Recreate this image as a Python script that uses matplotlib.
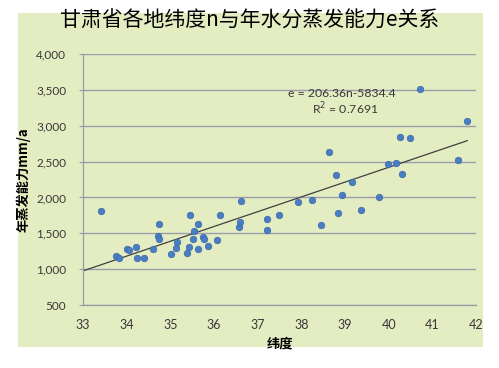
import numpy as np
import matplotlib.pyplot as plt
from matplotlib.patches import Rectangle

# latitude n (deg) and annual evaporation capacity e (mm/a)
lat = [33.42, 33.76, 33.82, 34.01, 34.05, 34.22, 34.24, 34.40, 34.60, 34.75,
       34.72, 34.75, 35.02, 35.13, 35.16, 35.39, 35.43, 35.46, 35.53, 35.54,
       35.63, 35.64, 35.74, 35.76, 35.87, 36.07, 36.14, 36.58, 36.60, 36.61,
       37.21, 37.21, 37.48, 37.93, 38.24, 38.45, 38.63, 38.79, 38.84, 38.94,
       39.16, 39.36, 39.77, 39.99, 40.16, 40.26, 40.30, 40.49, 40.72, 41.58,
       41.80]
evap = [1810, 1187, 1160, 1276, 1262, 1313, 1155, 1155, 1281, 1633,
        1462, 1416, 1211, 1290, 1382, 1229, 1313, 1750, 1424, 1532,
        1276, 1629, 1452, 1424, 1322, 1406, 1750, 1591, 1661, 1946,
        1703, 1541, 1750, 1940, 1964, 1619, 2637, 2312, 1787, 2033,
        2210, 1829, 2001, 2461, 2475, 2846, 2326, 2824, 3511, 2521,
        3069]

# trendline as printed on the chart
slope = 206.36
intercept = -5834.4
eq_text = "e = 206.36n-5834.4"
r2_text = "R$^2$ = 0.7691"

x_ticks = list(range(33, 43))
y_ticks = list(range(500, 4001, 500))

plt.rcParams['font.family'] = ['Lato', 'Noto Sans CJK SC', 'DejaVu Sans']

W, H = 499, 368
fig = plt.figure(figsize=(W / 100, H / 100), dpi=100)
fig.patch.set_facecolor('white')

# chart area background
bg = '#e4edc2'
fig.patches.append(Rectangle((18 / W, 1 - 347 / H), 465 / W, 334 / H,
                             transform=fig.transFigure, facecolor=bg,
                             edgecolor='none', zorder=-10))

ax = fig.add_axes([83 / W, 1 - 305 / H, (476 - 83) / W, (305 - 54) / H])
ax.set_facecolor('none')

ax.set_xlim(33, 42)
ax.set_ylim(500, 4000)
ax.set_xticks(x_ticks)
ax.set_yticks(y_ticks)
ax.set_yticklabels([f"{v:,}" for v in y_ticks])

ax.grid(axis='y', color='#9c9cac', linewidth=1.0)
ax.set_axisbelow(True)
for s in ['top', 'right']:
    ax.spines[s].set_visible(False)
for s in ['left', 'bottom']:
    ax.spines[s].set_color('#9a9aa6')
    ax.spines[s].set_linewidth(0.9)

ax.tick_params(axis='y', length=3, color='#9a9aa6', labelsize=8.5,
               labelcolor='#383838', pad=9)
ax.tick_params(axis='x', length=0, labelsize=9, labelcolor='#383838', pad=10)

ax.scatter(lat, evap, s=22, color='#4a7ec4', edgecolor='#3a68a8',
           linewidth=0.5, zorder=3)

xs = np.array([33, max(lat)])
ax.plot(xs, slope * xs + intercept, color='#404040', linewidth=0.9, zorder=2)

ax.text(37.70, 3455, eq_text, fontsize=8.8, color='#383838', va='center')
ax.text(38.24, 3242, r2_text, fontsize=8.8, color='#383838', va='center')

fig.text(0.5, 1 - 21 / H, "甘肃省各地纬度n与年水分蒸发能力e关系", ha='center',
         va='center', fontsize=15, family=['Noto Sans CJK SC'])
ax.set_xlabel("纬度", fontsize=9.5, fontweight='bold',
              family=['Noto Sans CJK SC'], labelpad=4)
ax.set_ylabel("年蒸发能力mm/a", fontsize=9.5, fontweight='bold',
              family=['Noto Sans CJK SC'], labelpad=4)

fig.savefig('out.png', dpi=100)
